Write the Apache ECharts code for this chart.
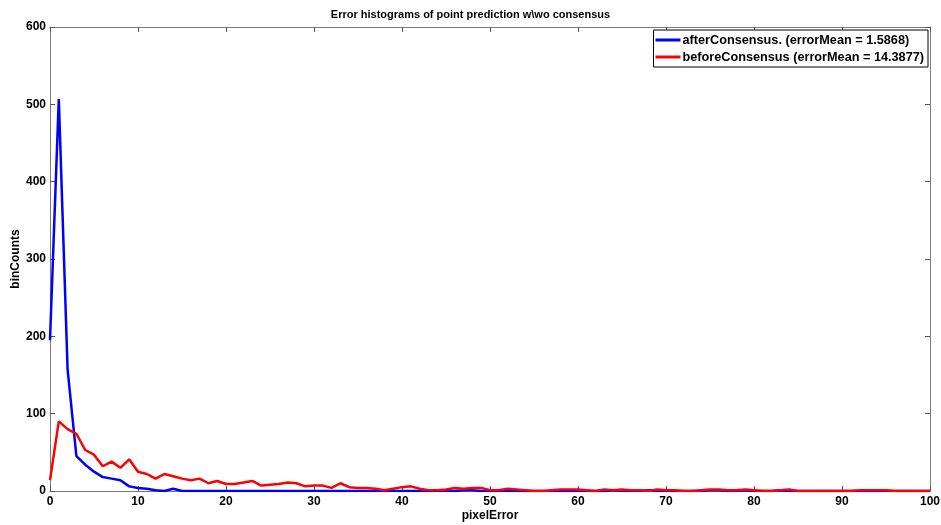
<!DOCTYPE html>
<html>
<head>
<meta charset="utf-8">
<script src="https://cdn.jsdelivr.net/npm/echarts@6/dist/echarts.min.js"></script>
<style>
  html, body { margin: 0; padding: 0; background: #fff; }
  #chart-container { width: 941px; height: 525px; }
</style>
</head>
<body>
<div id="chart-container"></div>
<script>
// bin counts per pixelError bin (0..100)
var afterCounts = [
    195, 507, 157, 45, 34, 25, 18, 16, 14, 6,
    4, 3, 1, 0, 3, 0, 0, 0, 0, 0,
    0, 0, 0, 0, 0, 0, 0, 0, 0, 0,
    0, 0, 0, 0, 0, 0, 0, 0, 0, 0,
    0, 0, 0, 0, 0, 0, 0, 1, 1, 0,
    0, 0, 0, 0, 0, 0, 0, 0, 0, 0,
    0, 0, 0, 0, 1, 0, 0, 0, 1, 0,
    0, 0, 0, 0, 0, 1, 1, 0, 0, 1,
    0, 0, 0, 1, 0, 0, 0, 0, 0, 0,
    0, 0, 0, 0, 0, 0, 0, 0, 0, 0,
    0
];
var beforeCounts = [
    14, 90, 80, 74, 53, 47, 32, 38, 30, 41,
    25, 22, 16, 22, 19, 16, 14, 16, 10, 13,
    9, 9, 11, 13, 7, 8, 9, 11, 10, 6,
    7, 7, 4, 10, 5, 4, 4, 3, 1, 3,
    5, 6, 3, 1, 1, 2, 4, 3, 4, 4,
    1, 1, 3, 2, 1, 0, 0, 1, 2, 2,
    2, 1, 0, 2, 1, 2, 1, 1, 0, 2,
    1, 1, 0, 0, 1, 2, 2, 1, 1, 2,
    1, 0, 0, 1, 2, 0, 0, 0, 0, 0,
    0, 0, 1, 1, 1, 1, 0, 0, 0, 0,
    0
];
var seriesNames = [
    'afterConsensus. (errorMean = 1.5868)',
    'beforeConsensus (errorMean = 14.3877)'
];

function toPairs(arr) {
    return arr.map(function (v, i) { return [i, v]; });
}

var dom = document.getElementById('chart-container');
var myChart = echarts.init(dom, null, { renderer: 'canvas' });

var font = 'Liberation Sans, Arial, sans-serif';
// box around the axes, MATLAB style (ticks pointing in)
var frame = { show: true, onZero: false, lineStyle: { color: '#7a7a7a', width: 1 } };
var ticks = { show: true, inside: true, length: 5, lineStyle: { color: '#555' } };
var labelStyle = { fontFamily: font, fontSize: 12, fontWeight: 'bold', color: '#000' };

var option = {
    animation: false,
    title: {
        text: 'Error histograms of point prediction w\\wo consensus',
        left: 'center',
        top: 4,
        textStyle: { fontFamily: font, fontSize: 11, fontWeight: 'bold', color: '#000' }
    },
    legend: {
        orient: 'vertical',
        right: 13,
        top: 30,
        backgroundColor: '#fff',
        borderColor: '#000',
        borderWidth: 1,
        padding: [3, 4, 3, 2],
        itemGap: 3,
        itemWidth: 25,
        itemHeight: 3,
        icon: 'rect',
        textStyle: {
            fontFamily: font, fontSize: 12.7, fontWeight: 'bold', color: '#000',
            lineHeight: 14, padding: [0, 0, 0, -3]
        },
        data: seriesNames
    },
    grid: {
        left: 50, right: 11, top: 27, bottom: 34,
        containLabel: false, outerBoundsMode: 'none'
    },
    xAxis: [
        {
            type: 'value', min: 0, max: 100, interval: 10,
            name: 'pixelError', nameLocation: 'middle', nameGap: 19, nameMoveOverlap: false,
            nameTextStyle: labelStyle,
            axisLine: frame, axisTick: ticks, splitLine: { show: false },
            axisLabel: { fontFamily: font, fontSize: 12, fontWeight: 'bold', color: '#000', margin: 5 }
        },
        {
            type: 'value', min: 0, max: 100, interval: 10, position: 'top',
            axisLine: frame, axisTick: ticks, splitLine: { show: false },
            axisLabel: { show: false }
        }
    ],
    yAxis: [
        {
            type: 'value', min: 0, max: 600, interval: 100,
            name: 'binCounts', nameLocation: 'middle', nameGap: 28, nameMoveOverlap: false,
            nameTextStyle: labelStyle,
            axisLine: frame, axisTick: ticks, splitLine: { show: false },
            axisLabel: { fontFamily: font, fontSize: 12, fontWeight: 'bold', color: '#000', margin: 4 }
        },
        {
            type: 'value', min: 0, max: 600, interval: 100, position: 'right',
            axisLine: frame, axisTick: ticks, splitLine: { show: false },
            axisLabel: { show: false }
        }
    ],
    series: [
        {
            name: seriesNames[0], type: 'line', data: toPairs(afterCounts),
            showSymbol: false, symbol: 'none', color: '#0000ff',
            lineStyle: { color: '#0000ff', width: 2.5 }, z: 3
        },
        {
            name: seriesNames[1], type: 'line', data: toPairs(beforeCounts),
            showSymbol: false, symbol: 'none', color: '#ff0000',
            lineStyle: { color: '#ff0000', width: 2.5 }, z: 4
        }
    ]
};

myChart.setOption(option);
window.addEventListener('resize', myChart.resize);
</script>
</body>
</html>
